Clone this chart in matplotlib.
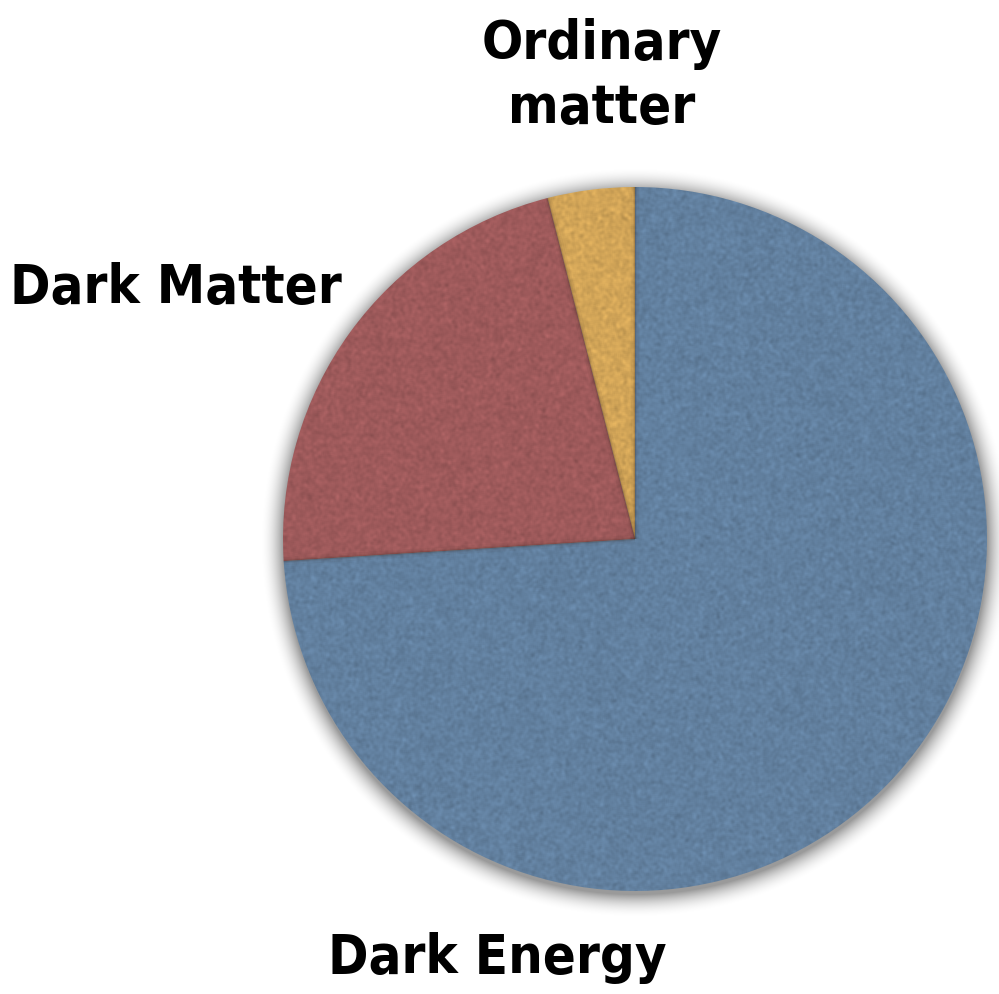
import numpy as np
import matplotlib
matplotlib.use("Agg")
import matplotlib.pyplot as plt

# Composition of the universe (percent)
labels = ["Ordinary matter", "Dark Matter", "Dark Energy"]
shares = [4, 22, 74]
colors = ["#d2a558", "#9e5a5b", "#62809f"]

W, H = 999, 995
cx, cy, r = 635, H - 540, 352

fig = plt.figure(figsize=(W / 100, H / 100), dpi=100)
ax = fig.add_axes([0, 0, 1, 1])

# soft drop shadow under the pie
yy, xx = np.mgrid[0:H, 0:W]
d = np.hypot(xx - cx, (H - yy) - (cy - 3)) - r
shadow = np.clip(1 - d / 24, 0, 1) ** 2 * 0.4
shadow_img = np.zeros((H, W, 4))
shadow_img[..., 3] = shadow
ax.imshow(shadow_img, extent=[0, W, 0, H], origin="upper", zorder=0)

wedges, _ = ax.pie(shares, colors=colors, startangle=90, counterclock=True,
                   center=(cx, cy), radius=r, frame=True,
                   wedgeprops=dict(linewidth=0))

# grainy paper texture inside each wedge
rng = np.random.default_rng(3)
noise = rng.normal(0, 1, (H, W))
k = np.array([1, 2, 3, 2, 1]) / 9
for axis in (0, 1):
    noise = np.apply_along_axis(lambda v: np.convolve(v, k, mode="same"), axis, noise)
noise = noise / noise.std()
for w, c in zip(wedges, colors):
    base = np.array(matplotlib.colors.to_rgb(c))
    tex = np.clip(base[None, None, :] * (1 + 0.03 * noise[..., None]), 0, 1)
    im = ax.imshow(tex, extent=[0, W, 0, H], origin="upper", zorder=2,
                   interpolation="bilinear")
    im.set_clip_path(w)
    w.set_facecolor("none")

# faint shading along the seams between slices
angles = 90 + 360 * np.cumsum([0] + shares[:-1]) / 100
for a in angles:
    t = np.radians(a)
    for lw, al in [(6, 0.05), (3, 0.08), (1.2, 0.2)]:
        ax.plot([cx, cx + r * np.cos(t)], [cy, cy + r * np.sin(t)],
                color="#3a2a20", lw=lw, alpha=al, solid_capstyle="butt", zorder=3)

ax.set_xlim(0, W)
ax.set_ylim(0, H)
ax.set_aspect("equal")
ax.axis("off")

font = dict(family=["DejaVu Sans"], stretch="condensed", weight="bold",
            color="black", fontsize=39)
ax.text(602, H - 76, "Ordinary\nmatter", ha="center", va="center",
        linespacing=1.3, **font)
ax.text(10, H - 288, "Dark Matter", ha="left", va="center", **font)
ax.text(497, H - 958, "Dark Energy", ha="center", va="center", **font)

fig.savefig("out.png", dpi=100)
